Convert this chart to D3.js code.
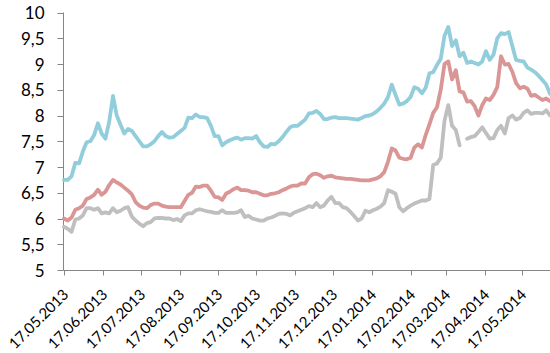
<!DOCTYPE html>
<html>
<head>
<meta charset="utf-8">
<script src="https://cdn.jsdelivr.net/npm/d3@7"></script>
<style>
  html, body { margin: 0; padding: 0; background: #fff; }
  svg { display: block; }
  text { font-family: Lato, "Open Sans", sans-serif; fill: #000; }
</style>
</head>
<body>
<svg id="chart" width="550" height="353"></svg>
<script>
const dates = [
"2013-05-17","2013-05-20","2013-05-23","2013-05-26","2013-05-29",
"2013-06-01","2013-06-04","2013-06-07","2013-06-10","2013-06-13","2013-06-16","2013-06-19","2013-06-22","2013-06-25","2013-06-28",
"2013-07-01","2013-07-04","2013-07-07","2013-07-10","2013-07-13","2013-07-16","2013-07-19","2013-07-22","2013-07-25","2013-07-28","2013-07-31",
"2013-08-03","2013-08-06","2013-08-09","2013-08-12","2013-08-15","2013-08-18","2013-08-21","2013-08-24","2013-08-27","2013-08-30",
"2013-09-02","2013-09-05","2013-09-08","2013-09-11","2013-09-14","2013-09-17","2013-09-20","2013-09-23","2013-09-26","2013-09-29",
"2013-10-02","2013-10-05","2013-10-08","2013-10-11","2013-10-14","2013-10-17","2013-10-20","2013-10-23","2013-10-26","2013-10-29",
"2013-11-01","2013-11-04","2013-11-07","2013-11-10","2013-11-13","2013-11-16","2013-11-19","2013-11-22","2013-11-25","2013-11-28",
"2013-12-01","2013-12-04","2013-12-07","2013-12-10","2013-12-13","2013-12-16","2013-12-19","2013-12-22","2013-12-25","2013-12-28","2013-12-31",
"2014-01-03","2014-01-06","2014-01-09","2014-01-12","2014-01-15","2014-01-18","2014-01-21","2014-01-24","2014-01-27","2014-01-30",
"2014-02-02","2014-02-05","2014-02-08","2014-02-11","2014-02-14","2014-02-17","2014-02-20","2014-02-23","2014-02-26",
"2014-03-01","2014-03-04","2014-03-07","2014-03-10","2014-03-13","2014-03-16","2014-03-19","2014-03-22","2014-03-25","2014-03-28","2014-03-31",
"2014-04-03","2014-04-06","2014-04-09","2014-04-12","2014-04-15","2014-04-18","2014-04-21","2014-04-24","2014-04-27","2014-04-30",
"2014-05-03","2014-05-06","2014-05-09","2014-05-12","2014-05-15","2014-05-18","2014-05-21","2014-05-24","2014-05-27","2014-05-30",
"2014-06-02","2014-06-05","2014-06-08"
];

const seriesBlue = [
6.75,6.75,6.82,7.08,7.07,7.30,7.48,7.50,7.62,7.85,
7.65,7.55,7.88,8.38,8.00,7.82,7.65,7.74,7.70,7.60,
7.50,7.40,7.40,7.44,7.50,7.60,7.68,7.60,7.57,7.58,
7.64,7.70,7.76,7.96,7.95,8.02,7.97,7.97,7.95,7.80,
7.60,7.60,7.42,7.48,7.52,7.55,7.57,7.53,7.56,7.56,
7.55,7.60,7.48,7.40,7.39,7.45,7.44,7.50,7.58,7.68,
7.77,7.80,7.80,7.86,7.92,8.04,8.05,8.09,8.03,7.93,
7.93,7.96,7.97,7.95,7.95,7.95,7.94,7.93,7.92,7.95,
7.99,8.00,8.03,8.08,8.15,8.23,8.36,8.60,8.40,8.21,
8.23,8.28,8.36,8.55,8.52,8.43,8.54,8.82,8.84,8.98,
9.10,9.55,9.72,9.35,9.46,9.15,9.22,9.02,9.05,9.02,
8.99,9.05,9.25,9.08,9.18,9.50,9.60,9.58,9.62,9.35,
9.08,9.06,9.05,8.93,8.89,8.84,8.77,8.69,8.60,8.42
];

const seriesRed = [
6.00,5.96,6.02,6.17,6.20,6.25,6.38,6.41,6.46,6.56,
6.46,6.52,6.65,6.75,6.70,6.66,6.60,6.54,6.47,6.32,
6.25,6.21,6.20,6.26,6.29,6.29,6.25,6.23,6.22,6.22,
6.22,6.22,6.34,6.46,6.50,6.62,6.61,6.64,6.64,6.54,
6.42,6.41,6.36,6.48,6.52,6.57,6.60,6.55,6.55,6.54,
6.51,6.51,6.48,6.45,6.45,6.48,6.49,6.51,6.55,6.58,
6.62,6.64,6.64,6.68,6.68,6.80,6.86,6.87,6.84,6.79,
6.82,6.83,6.80,6.79,6.78,6.77,6.77,6.76,6.75,6.74,
6.74,6.74,6.76,6.78,6.82,6.90,7.10,7.36,7.32,7.18,
7.16,7.15,7.18,7.38,7.44,7.38,7.62,7.83,8.05,8.16,
8.50,9.00,9.05,8.70,8.88,8.47,8.45,8.27,8.28,8.18,
8.00,8.20,8.33,8.30,8.40,8.55,9.15,8.99,9.00,8.85,
8.63,8.53,8.56,8.52,8.38,8.40,8.35,8.30,8.33,8.28
];

const seriesGray = [
5.84,5.80,5.74,5.98,6.00,6.06,6.20,6.20,6.17,6.20,
6.10,6.12,6.10,6.20,6.12,6.15,6.20,6.22,6.04,5.96,
5.90,5.85,5.91,5.93,6.00,6.01,6.01,6.00,6.00,5.97,
5.99,5.95,6.06,6.10,6.10,6.16,6.18,6.16,6.14,6.13,
6.11,6.11,6.16,6.11,6.11,6.11,6.12,6.16,6.03,6.05,
6.00,5.98,5.96,5.96,6.00,6.02,6.05,6.09,6.10,6.09,
6.06,6.11,6.14,6.17,6.20,6.24,6.22,6.30,6.22,6.25,
6.35,6.42,6.30,6.30,6.22,6.20,6.13,6.05,5.96,6.00,
6.15,6.12,6.16,6.19,6.23,6.30,6.55,6.52,6.48,6.22,
6.14,6.20,6.25,6.29,6.32,6.35,6.35,6.38,7.04,7.07,
7.18,7.90,8.20,7.80,7.72,7.42,null,7.55,7.58,7.60,
7.68,7.77,7.66,7.55,7.56,7.72,7.80,7.65,7.95,8.00,
7.92,7.95,8.05,8.10,8.03,8.05,8.05,8.04,8.10,8.00
];

const yTicks = [5, 5.5, 6, 6.5, 7, 7.5, 8, 8.5, 9, 9.5, 10];
const xTickDates = ["2013-05-17","2013-06-17","2013-07-17","2013-08-17","2013-09-17","2013-10-17",
  "2013-11-17","2013-12-17","2014-01-17","2014-02-17","2014-03-17","2014-04-17","2014-05-17"];

const parse = d3.timeParse("%Y-%m-%d");
const fmtTick = d3.timeFormat("%d.%m.%Y");
const fmtNum = v => String(v).replace(".", ",");

const svg = d3.select("#chart");
const x = d3.scaleTime()
  .domain([parse("2013-05-17"), parse("2014-06-08")])
  .range([64, 550]);
const y = d3.scaleLinear().domain([5, 10]).range([270, 12.5]);

const axisColor = "#868686";

// Y axis
const yAxis = svg.append("g").attr("transform", "translate(63.5,0)");
yAxis.append("line").attr("x1", 0).attr("x2", 0).attr("y1", y(10)).attr("y2", y(5))
  .attr("stroke", axisColor).attr("stroke-width", 1);
yTicks.forEach(t => {
  const yy = Math.round(y(t)) + 0.5;
  yAxis.append("line").attr("x1", -6).attr("x2", 0).attr("y1", yy).attr("y2", yy)
    .attr("stroke", axisColor).attr("stroke-width", 1);
  yAxis.append("text").attr("x", -19).attr("y", y(t) + 6.5)
    .attr("text-anchor", "end").attr("font-size", "17px").text(fmtNum(t));
});

// X axis
const xAxis = svg.append("g").attr("transform", "translate(0,270.5)");
xAxis.append("line").attr("x1", 63.5).attr("x2", 550).attr("y1", 0).attr("y2", 0)
  .attr("stroke", axisColor).attr("stroke-width", 1);
xTickDates.forEach(s => {
  const xx = Math.round(x(parse(s))) + 0.5;
  xAxis.append("line").attr("x1", xx).attr("x2", xx).attr("y1", 0).attr("y2", 5)
    .attr("stroke", axisColor).attr("stroke-width", 1);
  xAxis.append("text")
    .attr("transform", `translate(${xx + 5},${25}) rotate(-45)`)
    .attr("text-anchor", "end").attr("font-size", "15px")
    .text(fmtTick(parse(s)));
});

// Lines
const series = [
  { values: seriesGray, color: "#BFBFBF" },
  { values: seriesRed, color: "#D99694" },
  { values: seriesBlue, color: "#92CDDC" }
];
const line = d3.line()
  .defined(d => d.v !== null)
  .x(d => x(d.date))
  .y(d => y(d.v));

series.forEach(s => {
  const pts = dates.map((dstr, i) => ({ date: parse(dstr), v: s.values[i] }));
  svg.append("path")
    .datum(pts)
    .attr("fill", "none")
    .attr("stroke", s.color)
    .attr("stroke-width", 3.8)
    .attr("stroke-linejoin", "round")
    .attr("stroke-linecap", "round")
    .attr("d", line);
});
</script>
</body>
</html>
